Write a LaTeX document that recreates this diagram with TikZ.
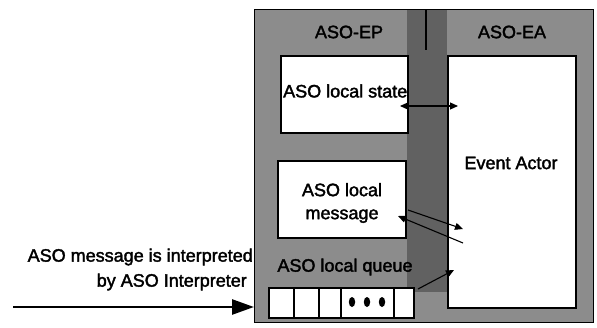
\documentclass[tikz,border=0pt]{standalone}
\usepackage{fontspec}
\setmainfont{Liberation Sans}[FakeBold=2.0]
\usetikzlibrary{arrows.meta}
\begin{document}
\begin{tikzpicture}[x=1pt,y=-1pt,
  every node/.style={font=\fontsize{18}{20}\selectfont, inner sep=0pt},
  box/.style={draw=black, line width=1.6pt, fill=white, rectangle, anchor=north west},
  cell/.style={draw=black, line width=1.6pt, fill=white, rectangle, anchor=north west, minimum height=30pt},
  link/.style={line width=1.1pt, -{Triangle[length=8pt,width=7pt]}},
  biglink/.style={line width=2.6pt, -{Triangle[length=22pt,width=15pt]}}]
\useasboundingbox (0,0) rectangle (597,327);
% outer frame
\node[draw=black, line width=1.4pt, fill=black!45, rectangle, anchor=north west,
      minimum width=339pt, minimum height=313pt] (frame) at (254,9) {};
\fill[black!62] (407,10) rectangle (447,292);
\draw[line width=1.4pt] (426,9) -- (426,50);
% titles
\node (ep) at (349,32) {ASO-EP};
\node (ea) at (512,32) {ASO-EA};
% boxes
\node[box, minimum width=127pt, minimum height=77pt] (state) at (280,55) {};
\node[anchor=west] (statetxt) at (283,91) {ASO local state};
\node[box, minimum width=128pt, minimum height=77pt] (msg) at (277,160) {};
\node[align=center, font=\fontsize{18}{23}\selectfont] (msgtxt) at (342,203) {ASO local\\message};
\node[box, minimum width=128pt, minimum height=252pt] (actor) at (447,55) {};
\node (actortxt) at (511,163) {Event Actor};
% queue
\node (qlabel) at (345,267) {ASO local queue};
\node[cell, minimum width=25pt] (q1) at (268,287) {};
\node[cell, minimum width=25pt] (q2) at (293,287) {};
\node[cell, minimum width=22pt] (q3) at (318,287) {};
\node[cell, minimum width=53pt] (q4) at (340,287) {};
\node[cell, minimum width=20pt] (q5) at (393,287) {};
\foreach \px in {352,367,382}{\fill (\px,302) ellipse (3.2pt and 5pt);}
% connectors
\coordinate (sa) at (400,106);
\coordinate (sb) at (458,106);
\draw[line width=1.1pt, {Triangle[length=8pt,width=7pt]}-{Triangle[length=8pt,width=7pt]}] (sa) -- (sb);
\coordinate (m1) at (408,210);
\coordinate (a1) at (463,229);
\draw[link] (m1) -- (a1);
\coordinate (a2) at (463,243);
\coordinate (m2) at (398,216);
\draw[link] (a2) -- (m2);
\coordinate (qa) at (418,289);
\coordinate (qb) at (454,270);
\draw[link] (qa) -- (qb);
% incoming message
\node[anchor=east] (in1) at (253,257) {ASO message is interpreted};
\node[anchor=east] (in2) at (247,282) {by ASO Interpreter};
\coordinate (start) at (13,307);
\draw[biglink] (start) -- (frame.west |- start);
\end{tikzpicture}
\end{document}
